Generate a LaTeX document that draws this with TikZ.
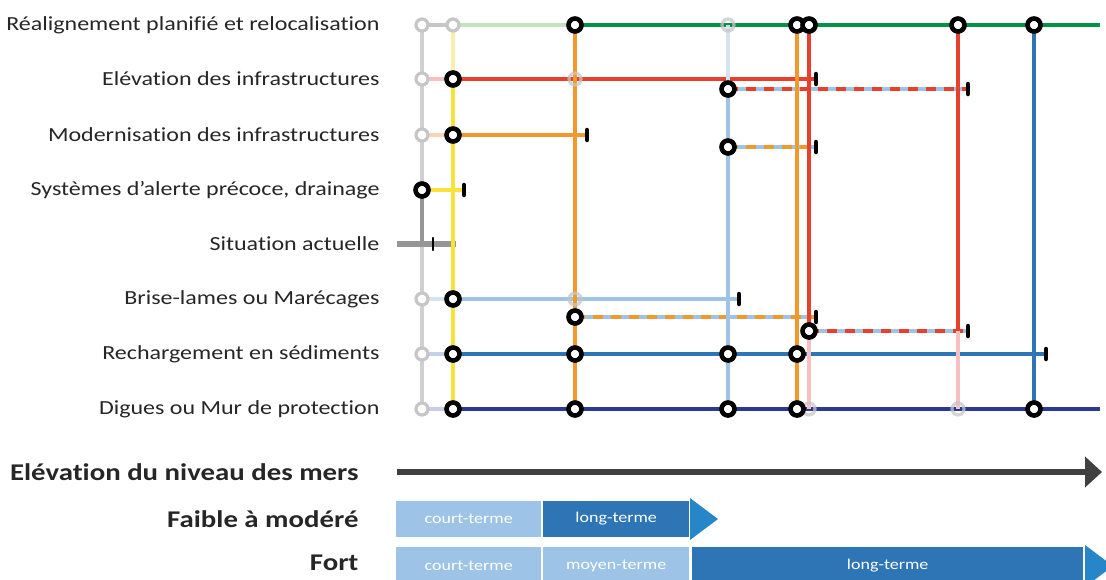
\documentclass[tikz,border=0pt]{standalone}
\usepackage{fontspec}
\setmainfont{Carlito}[FakeStretch=1.2, Ligatures=NoCommon]
\usetikzlibrary{arrows.meta}

\definecolor{txtgrey}{RGB}{38,38,38}
\definecolor{ghostgrey}{RGB}{198,198,198}
\definecolor{railgrey}{RGB}{208,208,208}
\definecolor{nowgrey}{RGB}{150,150,150}
\definecolor{arrowgrey}{RGB}{64,64,64}
\definecolor{retreatgreen}{RGB}{0,146,69}
\definecolor{paleGreen}{RGB}{196,226,192}
\definecolor{raisered}{RGB}{232,64,44}
\definecolor{palered}{RGB}{246,192,192}
\definecolor{upgradeorange}{RGB}{243,152,42}
\definecolor{paleorange}{RGB}{250,212,182}
\definecolor{warnyellow}{RGB}{248,226,60}
\definecolor{paleyellow}{RGB}{250,240,172}
\definecolor{marshblue}{RGB}{157,195,230}
\definecolor{palemarsh}{RGB}{212,226,242}
\definecolor{sandblue}{RGB}{46,117,182}
\definecolor{palesand}{RGB}{196,210,232}
\definecolor{dikenavy}{RGB}{43,57,144}
\definecolor{palenavy}{RGB}{200,204,230}
\definecolor{tipblue}{RGB}{38,134,200}

\begin{document}
\begin{tikzpicture}[x=1pt, y=-1pt,
  stop/.style={circle, draw=black, fill=white, line width=4.6pt, minimum size=13pt, inner sep=0pt},
  ghost/.style={circle, draw=ghostgrey, fill=white, line width=3.2pt, minimum size=12pt, inner sep=0pt},
  fade/.style={circle, draw=ghostgrey, draw opacity=0.75, line width=3.2pt, minimum size=12pt, inner sep=0pt},
  route/.style={line width=4pt},
  mixed/.style={line width=4pt, dash pattern=on 10pt off 8pt},
  endtick/.style={line width=4.5pt, line cap=round, black},
  rowtext/.style={anchor=east, text=txtgrey, font=\fontsize{20}{24}\selectfont},
  bigtext/.style={anchor=east, text=txtgrey, font=\fontsize{24}{28}\selectfont\bfseries},
  termbox/.style={anchor=west, inner sep=0pt, text=white, font=\fontsize{15}{18}\selectfont}]

  \useasboundingbox (0,0) rectangle (1106,579);

  % Row labels
  \node[rowtext] (reaL) at (383,25) {Réalignement planifié et relocalisation};
  \node[rowtext] (eleL) at (383,79) {Elévation des infrastructures};
  \node[rowtext] (modL) at (383,135) {Modernisation des infrastructures};
  \node[rowtext] (sysL) at (383,190) {Systèmes d’alerte précoce, drainage};
  \node[rowtext] (sitL) at (383,244) {Situation actuelle};
  \node[rowtext] (briL) at (383,299) {Brise-lames ou Marécages};
  \node[rowtext] (recL) at (383,354) {Rechargement en sédiments};
  \node[rowtext] (digL) at (383,409) {Digues ou Mur de protection};

  % Stations
  \coordinate (rea0) at (422,25);  \coordinate (rea1) at (453,25);
  \coordinate (rea2) at (575,25);  \coordinate (rea3) at (728,25);
  \coordinate (rea4) at (797,25);  \coordinate (rea5) at (809,25);
  \coordinate (rea6) at (958,25);  \coordinate (rea7) at (1034,25);
  \coordinate (reaE) at (1100,25);
  \coordinate (ele0) at (422,79);  \coordinate (ele1) at (453,79);
  \coordinate (ele2) at (575,79);  \coordinate (eleT) at (816,79);
  \coordinate (elb3) at (728,89);  \coordinate (elbT) at (968,89);
  \coordinate (mod0) at (422,135); \coordinate (mod1) at (453,135);
  \coordinate (modT) at (587,135);
  \coordinate (mob3) at (728,147); \coordinate (mobT) at (816,147);
  \coordinate (sys0) at (422,190); \coordinate (sysT) at (464,190);
  \coordinate (sitA) at (397,244); \coordinate (sit0) at (422,244);
  \coordinate (sitB) at (456,244); \coordinate (sitT) at (433,244);
  \coordinate (bri0) at (422,299); \coordinate (bri1) at (453,299);
  \coordinate (bri2) at (575,299); \coordinate (briT) at (739,299);
  \coordinate (brb2) at (575,317); \coordinate (brbT) at (816,317);
  \coordinate (brc5) at (809,331); \coordinate (brc6) at (958,331);
  \coordinate (brcT) at (968,331);
  \coordinate (rec0) at (422,354); \coordinate (rec1) at (453,354);
  \coordinate (rec2) at (575,354); \coordinate (rec3) at (728,354);
  \coordinate (rec4) at (797,354); \coordinate (recT) at (1046,354);
  \coordinate (dig0) at (422,409); \coordinate (dig1) at (453,409);
  \coordinate (dig2) at (575,409); \coordinate (dig3) at (728,409);
  \coordinate (dig4) at (797,409); \coordinate (dig5) at (809,409);
  \coordinate (dig6) at (958,409); \coordinate (dig7) at (1034,409);
  \coordinate (digE) at (1100,409);

  % Current situation
  \draw[route, railgrey] (rea0) -- (dig0);
  \draw[route, nowgrey] (sys0) -- (sit0);
  \draw[line width=6pt, nowgrey] (sitA) -- (sitB);

  % Horizontal routes
  \draw[route, ghostgrey] (rea0) -- (rea1);
  \draw[route, paleGreen] (rea1) -- (rea2);
  \draw[route, retreatgreen] (rea2) -- (reaE);
  \draw[route, palered] (ele0) -- (ele1);
  \draw[route, raisered] (ele1) -- (eleT);
  \draw[route, marshblue] (elb3) -- (elbT);
  \draw[mixed, raisered] (elb3) -- (elbT);
  \draw[route, paleorange] (mod0) -- (mod1);
  \draw[route, upgradeorange] (mod1) -- (modT);
  \draw[route, marshblue] (mob3) -- (mobT);
  \draw[mixed, upgradeorange] (mob3) -- (mobT);
  \draw[route, warnyellow] (sys0) -- (sysT);
  \draw[route, palemarsh] (bri0) -- (bri1);
  \draw[route, marshblue] (bri1) -- (briT);
  \draw[route, marshblue] (brb2) -- (brbT);
  \draw[mixed, upgradeorange] (brb2) -- (brbT);
  \draw[route, marshblue] (brc5) -- (brcT);
  \draw[mixed, raisered] (brc5) -- (brcT);
  \draw[route, palesand] (rec0) -- (rec1);
  \draw[route, sandblue] (rec1) -- (recT);
  \draw[route, palenavy] (dig0) -- (dig1);
  \draw[route, dikenavy] (dig1) -- (digE);

  % Vertical transfers
  \draw[route, paleyellow] (rea1) -- (ele1);
  \draw[route, warnyellow] (ele1) -- (dig1);
  \draw[route, upgradeorange] (rea2) -- (dig2);
  \draw[route, palemarsh] (rea3) -- (elb3);
  \draw[route, marshblue] (elb3) -- (dig3);
  \draw[route, upgradeorange] (rea4) -- (dig4);
  \draw[route, raisered] (rea5) -- (brc5);
  \draw[route, palered] (brc5) -- (dig5);
  \draw[route, raisered] (rea6) -- (brc6);
  \draw[route, palered] (brc6) -- (dig6);
  \draw[route, sandblue] (rea7) -- (dig7);

  % Ends of routes
  \foreach \p in {eleT,elbT,modT,mobT,sysT,briT,brbT,brcT,recT}
    \draw[endtick] ([yshift=5pt]\p) -- ([yshift=-5pt]\p);
  \draw[line width=2.2pt, line cap=round, black] ([yshift=6pt]sitT) -- ([yshift=-6pt]sitT);

  % Circles
  \foreach \p in {rea0,rea1,ele0,mod0,bri0,rec0,dig0}
    \node[ghost] at (\p) {};
  \foreach \p in {rea3,ele2,bri2,dig5,dig6}
    \node[fade] at (\p) {};
  \foreach \p in {rea2,rea4,rea5,rea6,rea7,ele1,elb3,mod1,mob3,sys0,bri1,brb2,brc5,
                  rec1,rec2,rec3,rec4,dig1,dig2,dig3,dig4,dig7}
    \node[stop] at (\p) {};

  % Sea level rise
  \node[bigtext] (slrL) at (362,472) {Elévation du niveau des mers};
  \coordinate (slrA) at (397,472);
  \coordinate (slrB) at (1102,472);
  \draw[line width=6pt, arrowgrey, -{Triangle[length=17pt, width=30pt]}] (slrA) -- (slrB);

  % Low to moderate
  \node[bigtext] (lowL) at (362,519) {Faible à modéré};
  \node[termbox, fill=marshblue, minimum width=145pt, minimum height=36pt] (low1) at (396,519) {court-terme};
  \node[termbox, fill=sandblue, minimum width=146pt, minimum height=36pt] (low2) at (543,519) {long-terme};
  \fill[tipblue] (690,498) -- (718,519) -- (690,540) -- cycle;

  % High
  \node[bigtext] (highL) at (362,563) {Fort};
  \node[termbox, fill=marshblue, minimum width=145pt, minimum height=38pt] (high1) at (396,566) {court-terme};
  \node[termbox, fill=marshblue, minimum width=146pt, minimum height=38pt] (high2) at (543,566) {moyen-terme};
  \node[termbox, fill=sandblue, minimum width=391pt, minimum height=38pt] (high3) at (692,566) {long-terme};
  \fill[tipblue] (1085,545) -- (1113,566) -- (1085,587) -- cycle;
\end{tikzpicture}
\end{document}
